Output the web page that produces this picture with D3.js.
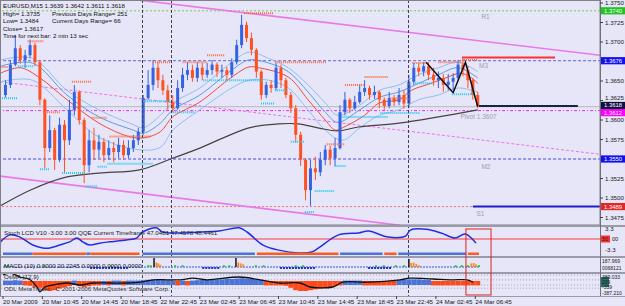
<!DOCTYPE html>
<html><head><meta charset="utf-8">
<script src="https://cdn.jsdelivr.net/npm/d3@7"></script>
<style>
body{margin:0;background:#e6e6f8}
svg{display:block}
text{font-family:"Liberation Sans",Arial,sans-serif}
</style></head>
<body><svg id="c" width="625" height="306"></svg>
<script>
// ---------------- DATA ----------------
const symbolInfo = ["EURUSD,M15  1.3639 1.3642 1.3611 1.3618","High= 1.3735","Previous Days Range= 251","Low= 1.3484","Current Days Range= 66","Close= 1.3617","Time for next bar: 2 min 13 sec"];
const timeTicks = [0,16,32,48,64,80,96,112,128,144,160,176,192];
const timeLabels = ["20 Mar 2009","20 Mar 10:45","20 Mar 14:45","20 Mar 18:45","22 Mar 22:45","23 Mar 02:45","23 Mar 06:45","23 Mar 10:45","23 Mar 14:45","23 Mar 18:45","23 Mar 22:45","24 Mar 02:45","24 Mar 06:45"];
const priceTicks = [1.3750,1.3725,1.3700,1.3650,1.3625,1.3600,1.3575,1.3525,1.3500,1.3475];
// price-level tags on the axis: [price, fill, text colour, nudge]
const priceTags = [[1.3740,"#22c322","#ffffff",0],[1.3676,"#1010f0","#ffffff",0],[1.3550,"#1010f0","#ffffff",0],[1.3612,"#ff00ff","#ffffff",2],[1.3618,"#101040","#ffffff",-0.5],[1.3489,"#e02828","#ffffff",0]];

// candles (30-minute steps)
const opens = [1.3632,1.3645,1.3671,1.3692,1.3677,1.3683,1.3696,1.3674,1.3626,1.3564,
 1.3587,1.3549,1.3594,1.3574,1.3613,1.3636,1.3600,1.3542,1.3574,1.3562,
 1.3572,1.3555,1.3564,1.3559,1.3568,1.3555,1.3564,1.3574,1.3585,1.3628,
 1.3645,1.3667,1.3651,1.3638,1.3623,1.3615,1.3641,1.3658,1.3664,1.3654,
 1.3667,1.3658,1.3664,1.3671,1.3662,1.3664,1.3658,1.3674,1.3696,1.3722,
 1.3705,1.3690,1.3662,1.3632,1.3645,1.3641,1.3667,1.3651,1.3632,1.3615,
 1.3581,1.3549,1.3510,1.3538,1.3533,1.3549,1.3562,1.3551,1.3564,1.3610,
 1.3626,1.3615,1.3623,1.3636,1.3641,1.3632,1.3636,1.3626,1.3618,1.3628,
 1.3623,1.3632,1.3621,1.3649,1.3667,1.3662,1.3669,1.3658,1.3651,1.3654,
 1.3645,1.3649,1.3654,1.3671,1.3664,1.3651,1.3632];
const highs = [1.3651,1.3677,1.3709,1.3696,1.3690,1.3703,1.3699,1.3677,1.3628,1.3606,
 1.3590,1.3603,1.3600,1.3626,1.3645,1.3638,1.3603,1.3587,1.3590,1.3581,
 1.3577,1.3574,1.3572,1.3577,1.3574,1.3574,1.3581,1.3590,1.3632,1.3664,
 1.3677,1.3674,1.3658,1.3645,1.3632,1.3651,1.3667,1.3674,1.3671,1.3674,
 1.3673,1.3673,1.3677,1.3674,1.3671,1.3668,1.3679,1.3703,1.3735,1.3726,
 1.3712,1.3692,1.3664,1.3649,1.3651,1.3673,1.3671,1.3654,1.3636,1.3619,
 1.3585,1.3551,1.3549,1.3553,1.3559,1.3568,1.3567,1.3577,1.3619,1.3636,
 1.3628,1.3631,1.3646,1.3651,1.3644,1.3644,1.3638,1.3629,1.3636,1.3632,
 1.3641,1.3638,1.3658,1.3673,1.3673,1.3674,1.3674,1.3667,1.3662,1.3659,
 1.3659,1.3660,1.3677,1.3679,1.3669,1.3654,1.3636];
const lows = [1.3629,1.3641,1.3669,1.3672,1.3667,1.3679,1.3669,1.3619,1.3538,1.3559,
 1.3536,1.3546,1.3533,1.3568,1.3606,1.3594,1.3519,1.3533,1.3549,1.3551,
 1.3546,1.3549,1.3546,1.3551,1.3549,1.3551,1.3559,1.3568,1.3581,1.3626,
 1.3638,1.3641,1.3632,1.3613,1.3610,1.3613,1.3636,1.3651,1.3649,1.3649,
 1.3651,1.3654,1.3658,1.3655,1.3654,1.3651,1.3654,1.3671,1.3692,1.3700,
 1.3683,1.3654,1.3626,1.3628,1.3635,1.3638,1.3641,1.3628,1.3609,1.3571,
 1.3541,1.3497,1.3490,1.3523,1.3528,1.3542,1.3542,1.3541,1.3562,1.3606,
 1.3609,1.3613,1.3621,1.3631,1.3626,1.3627,1.3615,1.3613,1.3615,1.3618,
 1.3619,1.3615,1.3615,1.3645,1.3656,1.3656,1.3651,1.3644,1.3641,1.3636,
 1.3638,1.3638,1.3651,1.3656,1.3641,1.3626,1.3615];
const closes = [1.3645,1.3671,1.3692,1.3677,1.3683,1.3696,1.3674,1.3626,1.3564,1.3587,
 1.3549,1.3594,1.3574,1.3613,1.3636,1.3600,1.3542,1.3574,1.3562,1.3572,
 1.3555,1.3564,1.3559,1.3568,1.3555,1.3564,1.3574,1.3585,1.3628,1.3645,
 1.3667,1.3651,1.3638,1.3623,1.3615,1.3641,1.3658,1.3664,1.3654,1.3667,
 1.3658,1.3664,1.3671,1.3662,1.3664,1.3658,1.3674,1.3696,1.3722,1.3705,
 1.3690,1.3662,1.3632,1.3645,1.3641,1.3667,1.3651,1.3632,1.3615,1.3581,
 1.3549,1.3510,1.3538,1.3533,1.3549,1.3562,1.3551,1.3564,1.3610,1.3626,
 1.3615,1.3623,1.3636,1.3641,1.3632,1.3636,1.3626,1.3618,1.3628,1.3623,
 1.3632,1.3621,1.3649,1.3667,1.3662,1.3669,1.3658,1.3651,1.3654,1.3645,
 1.3649,1.3654,1.3671,1.3664,1.3651,1.3632,1.3618];

// moving averages: [bar, price]
const maSlow = [[-1,1.3490],[11,1.3510],[26,1.3527],[39,1.3532],[55.5,1.3536],[69,1.3551],[80,1.3564],[100,1.3590],[112,1.3595],[120,1.3595],[128,1.3590],[136,1.3586],[144.5,1.3591],[161,1.3596],[177,1.3604],[193,1.3613]];
const maMid = [[-1,1.3660],[7,1.3667],[15,1.3654],[26,1.3626],[39,1.3596],[51,1.3579],[57,1.3577],[64,1.3585],[69,1.3604],[80,1.3623],[93,1.3655],[100,1.3668],[104,1.3667],[116,1.3655],[124,1.3626],[131,1.3600],[135,1.3587],[138,1.3590],[147,1.3606],[153,1.3622],[161,1.3626],[166,1.3638],[174,1.3647],[180,1.3654],[186,1.3660],[190,1.3655],[193,1.3647]];
const bandUp = [[-1,1.3677],[12,1.3679],[26,1.3638],[39,1.3613],[53,1.3594],[57,1.3590],[64,1.3606],[69,1.3622],[80,1.3641],[93,1.3674],[100,1.3687],[108,1.3679],[116,1.3667],[124,1.3645],[131,1.3622],[136,1.3606],[145,1.3619],[153,1.3638],[161,1.3645],[169,1.3658],[177,1.3667],[185,1.3674],[193,1.3662]];
const bandIn = [[-1,1.3669],[12,1.3673],[26,1.3632],[39,1.3604],[53,1.3587],[57,1.3583],[64,1.3596],[69,1.3613],[80,1.3632],[93,1.3664],[100,1.3677],[108,1.3673],[116,1.3662],[124,1.3636],[131,1.3610],[136,1.3597],[145,1.3613],[153,1.3629],[161,1.3636],[169,1.3647],[177,1.3658],[185,1.3667],[193,1.3654]];
const bandLo = [[-1,1.3649],[12,1.3651],[26,1.3613],[39,1.3578],[55,1.3562],[64,1.3565],[69,1.3587],[80,1.3613],[93,1.3641],[100,1.3651],[108,1.3651],[116,1.3641],[124,1.3613],[131,1.3587],[138,1.3574],[145,1.3590],[153,1.3606],[161,1.3613],[169,1.3626],[177,1.3632],[185,1.3641],[193,1.3636]];

// channel lines [[bar,price],[bar,price]]
const chanUpper = [[54.9,1.37538],[242.7,1.3683]];
const chanMid = [[-1.2,1.3649],[242.7,1.3556]];
const chanLower = [[-1.2,1.3528],[161.4,1.3465]];

// horizontal levels: [price, colour, dash]
const levels = [[1.3740,"#77cc44","2,2"],[1.3676,"#6060d8","3,2"],[1.3550,"#4848e0","3,2"],[1.3612,"#ee22ee","3,2,1,2"],[1.3489,"#f07070","2,2"]];
const bidPrice = 1.3617;
const shortLines = [[186.6,224.4,1.3680,"#ff3030"],[193.5,233.7,1.3618,"#202048"],[191,242.7,1.3489,"#2020c8"]];
const levelNames = [["R1",194.5,1.3730],["M3",193.5,1.3667],["Pivot  1.3607",186,1.3601],["M2",194.5,1.3537],["S1",192.5,1.3477]];
const zigzag = [[172,1.3674],[183,1.3635],[188,1.3674],[193,1.3617]];

// fractal-style resistance / support dashes: [bar0, bar1, price]
const resist = [[-1,2,1.3668],[10,16.6,1.3701],[17,23,1.3610],[28,36,1.3649],[36,42.5,1.3603],[43.3,60.3,1.3579],[61,69,1.3674],[73,83,1.3674],[83,90,1.3683],[98,110,1.3737],[110.5,131.6,1.3674],[131.6,139,1.3569],[139,146.6,1.3645],[147,156.7,1.3655],[157.5,164.8,1.3628],[166.4,172.9,1.3673],[177,186.6,1.3674],[186.6,193,1.3677]];
const support = [[-0.4,6,1.3628],[6,12.6,1.3669],[15,19,1.3537],[24,33.6,1.3532],[33.6,38.5,1.3515],[38.5,42.5,1.3540],[42.5,61,1.3544],[57,68.4,1.3624],[68.4,78,1.3610],[81.4,105.7,1.3651],[104.9,110.5,1.3621],[110.5,115.4,1.3638],[117,122.7,1.3572],[122.7,126.7,1.3482],[126.7,134.8,1.3509],[134.8,139.7,1.3541],[138,156.7,1.3604],[153.4,169.6,1.3609],[167.6,175,1.3647],[182.6,191.5,1.3633]];

const sessionMarks = [56.7,68.4,164.6];

// QQE panel
const qqeTitle = "Stoch LCD V10 -3.00 3.00  QQE Current Timeframe 47.0481 47.4578 48.4461";
const qqeLine = [[-1,-0.9],[2.8,1.3],[6.9,0.6],[12.1,-1.9],[16.2,-2.8],[19,-2.8],[23.1,-1.9],[27.1,-0.9],[30,0.3],[32.4,-0.9],[35.2,-1.9],[39.3,-1.3],[43.3,-0.9],[50.2,-0.3],[54.3,0.3],[56.7,2.2],[62.3,3.5],[64.8,2.2],[67.6,1.9],[72.9,1.9],[79.8,2.2],[87.9,2.5],[96,3.5],[99.2,2.2],[105.7,-1.9],[112.1,-3.5],[120.2,-4.4],[125.5,-4.1],[128.3,-2.8],[136.4,1.3],[144.5,1.9],[148.6,2.5],[156.7,0.6],[163.6,0.9],[165.6,2.8],[172,3.1],[178.1,1.9],[183.8,0.3],[187.9,1.6],[192.3,-1.3]];
const qqeStrip = [[0,12,1],[12,34,0],[34,35.5,1],[35.5,55.5,0],[56.7,102.4,1],[103.2,136.4,0],[137,154.3,1],[155,160,0],[160.7,188.3,1],[189,193.5,0]];

// MACD panel
const macdTitle = "MACD (10) 0.0000 20.2245 0.0000 0.0000 0.0000";
const macdBars = [[61.4,1,"k"],[62.3,0.5,"o"],[63.1,0.4,"o"],[63.9,0.25,"o"],[94.7,1,"k"],[95.6,0.5,"o"],[96.6,0.4,"o"],[97.6,0.3,"o"],[165,0.9,"k"],[165.9,0.45,"o"],[166.9,0.5,"o"],[168,0.35,"o"],[169.2,0.2,"o"],[190.3,0.4,"o"],[191.3,0.45,"o"],[192.3,0.3,"o"]];
const macdGreen = [0.8,2,16.6,44,59,60,70,73,89.8,92,102.8,106,119,122,151.6,154.8,159.7,163,184,186.5,189,193.5];
const macdDark = [[35.4,50.8],[81,88.2],[112.6,127.2],[148.4,158.1]];

// OsMA panel
const osmaTitle = "OsMA (12,9)";
const copyright = "ODL MetaTrader - C 2001-2006 MetaQuotes Software Corp.";
const osmaVals = [0.3,0.3,0.35,0.3,-0.3,-0.35,-0.5,-0.6,-0.9,-1.0,
 -0.9,-0.7,-0.5,-0.4,0.3,-0.4,-0.5,-0.4,-0.3,-0.3,
 0.25,-0.3,0.3,0.3,-0.3,0.3,0.3,0.3,0.35,0.4,
 0.4,0.4,0.4,0.35,0.3,-0.3,0.3,-0.3,0.3,0.35,
 0.4,0.4,0.4,0.45,0.45,0.5,0.5,0.55,0.6,0.55,
 0.5,0.45,0.4,-0.3,-0.3,-0.3,-0.3,-0.35,-0.6,-0.9,
 -1.0,-1.0,-0.9,-0.8,-0.7,-0.6,-0.5,-0.4,-0.3,0.3,
 0.3,0.3,0.3,-0.3,-0.3,-0.3,-0.3,-0.3,-0.3,-0.3,
 0.35,0.4,0.45,0.45,0.45,0.4,0.4,-0.3,-0.3,-0.3,
 -0.3,-0.3,-0.3,-0.3,-0.3,-0.3,-0.3];
const osmaLine = [[0,1.0],[2.8,1.25],[6.9,0.75],[11,0.4],[13.8,-0.5],[15,-1.1],[17.1,-0.5],[20.3,-0.25],[26,0],[31.3,-0.25],[36.6,0],[43.5,0],[50.4,0],[55.7,0.1],[61,0.4],[66.7,0.4],[72,0.4],[77.2,0.6],[82.9,0.4],[96.3,0.75],[104.5,0.4],[112.6,0],[120.7,0],[124.8,-0.5],[128.9,-0.6],[134.1,-0.5],[138.2,0.1],[148,0.1],[161.4,0.4],[165.4,0.6],[174.8,0.5],[182.9,0.4],[188.6,0.4],[191.1,0.1]];
const osmaGuides = [1.0,0.4,-0.25,-0.65];
const osmaAxis = [["389.033",0.7],["339",0.08],["-339",-0.55],["-387.210",-1.2]];
const macdAxis = [["187.969",0.7],["0068121",-0.12]];
const qqeAxis = [["3.3",3.3],["-3.3",-3.3]];

// ---------------- DRAW ----------------
const svg = d3.select("#c");
const BG = "#e6e6f8";
svg.append("rect").attr("width",625).attr("height",306).attr("fill",BG);

const xs = d3.scaleLinear().domain([0,242.7]).range([3,600]);
const yP = d3.scaleLinear().domain([1.35,1.37]).range([198,42]);
const yQ = d3.scaleLinear().domain([-3.3,3.3]).range([249.5,228.5]);
const yM = d3.scaleLinear().domain([0,1]).range([267,258]);
const yO = d3.scaleLinear().domain([-1,1]).range([291,275]);

const defs = svg.append("defs");
function clip(id,y0,y1){defs.append("clipPath").attr("id",id).append("rect").attr("x",0).attr("y",y0).attr("width",600).attr("height",y1-y0);}
clip("cm",1,225); clip("cq",227,256); clip("cmd",258,272); clip("co",274,296);

const gMain = svg.append("g").attr("clip-path","url(#cm)");
const ln = (sy)=>d3.line().x(d=>xs(d[0])).y(d=>sy(d[1]));
function path(g,data,color,w,dash,sy,curve){
  g.append("path").datum(data).attr("d",ln(sy||yP).curve(curve||d3.curveLinear)(data))
   .attr("fill","none").attr("stroke",color).attr("stroke-width",w).attr("stroke-dasharray",dash||null);
}

// horizontal levels
levels.forEach(l=>path(gMain,[[-2,l[0]],[243,l[0]]],l[1],1,l[2]));
path(gMain,[[-2,bidPrice],[243,bidPrice]],"#b8b8c0",1);

// channels
path(gMain,chanUpper,"#ea78ea",1.6);
path(gMain,chanMid,"#f070f0",1,"3,2");
path(gMain,chanLower,"#ea78ea",1.6);

// moving averages
const cv = d3.curveCatmullRom;
path(gMain,bandUp,"#8cc0f0",1,null,yP,cv);
path(gMain,bandLo,"#8cc0f0",1,null,yP,cv);
path(gMain,bandIn,"#5a9ae8",1,null,yP,cv);
path(gMain,maMid,"#f04a3a",1,null,yP,cv);
path(gMain,maSlow,"#4a4040",1.2,null,yP,cv);

// session markers
sessionMarks.forEach(t=>{
  svg.append("line").attr("x1",Math.round(xs(t))+0.5).attr("x2",Math.round(xs(t))+0.5).attr("y1",0).attr("y2",296)
   .attr("stroke","#404050").attr("stroke-width",1).attr("stroke-dasharray","3,2");
});

// candles
const cand = opens.map((o,i)=>({t:2*i+1,o,h:highs[i],l:lows[i],c:closes[i]}));
const cg = gMain.append("g");
cand.forEach(d=>{
  const up = d.c>=d.o, col = up?"#3462e0":"#ff5020";
  const x = xs(d.t);
  cg.append("line").attr("x1",x).attr("x2",x).attr("y1",yP(d.h)).attr("y2",yP(d.l)).attr("stroke",col).attr("stroke-width",1);
  const y0 = yP(Math.max(d.o,d.c)), y1 = yP(Math.min(d.o,d.c));
  cg.append("rect").attr("x",x-1.5).attr("y",y0).attr("width",3).attr("height",Math.max(1,y1-y0)).attr("fill",col);
});

// resistance/support dashes
resist.forEach(r=>path(gMain,[[r[0],r[2]],[r[1],r[2]]],"#ff6a40",2,"1,1"));
support.forEach(r=>path(gMain,[[r[0],r[2]],[r[1],r[2]]],"#28c8f0",2,"1,1"));

// short lines and zigzag
shortLines.forEach(s=>path(gMain,[[s[0],s[2]],[s[1],s[2]]],s[3],2));
path(gMain,zigzag,"#101010",1.5);

// level names
levelNames.forEach(n=>gMain.append("text").attr("x",xs(n[1])).attr("y",yP(n[2])).attr("font-size",6.5).attr("fill","#a0a0a8").text(n[0]));

// info text
const info = gMain.append("g").attr("font-size",6.2).attr("fill","#101010");
info.append("text").attr("x",3).attr("y",8).text(symbolInfo[0]);
info.append("text").attr("x",3).attr("y",15.5).text(symbolInfo[1]);
info.append("text").attr("x",52).attr("y",15.5).text(symbolInfo[2]);
info.append("text").attr("x",3).attr("y",23).text(symbolInfo[3]);
info.append("text").attr("x",52).attr("y",23).text(symbolInfo[4]);
info.append("text").attr("x",3).attr("y",30.5).text(symbolInfo[5]);
info.append("text").attr("x",3).attr("y",38).text(symbolInfo[6]);

// ---- QQE panel ----
const gQ = svg.append("g").attr("clip-path","url(#cq)");
path(gQ,[[-2,0],[243,0]],"#ff3838",1,null,yQ);
path(gQ,qqeLine,"#2030e0",1.5,null,yQ,cv);
qqeStrip.forEach(s=>gQ.append("rect").attr("x",xs(s[0])).attr("y",252.5).attr("width",Math.max(1,xs(s[1])-xs(s[0]))).attr("height",2.5).attr("fill",s[2]?"#4a74d8":"#ff5a20"));
gQ.append("text").attr("x",4).attr("y",235).attr("font-size",6.2).attr("fill","#202020").text(qqeTitle);

// ---- MACD panel ----
const gM = svg.append("g").attr("clip-path","url(#cmd)");
path(gM,[[0,0],[193.5,0]],"#7088e8",1.5,"2,1",yM);
macdDark.forEach(s=>path(gM,[[s[0],-0.1],[s[1],-0.1]],"#2838c8",2,"2,1",yM));
macdGreen.forEach(t=>gM.append("rect").attr("x",xs(t)-1).attr("y",yM(0.2)).attr("width",2).attr("height",yM(0)-yM(0.2)).attr("fill","#22cc22"));
macdBars.forEach(b=>gM.append("rect").attr("x",xs(b[0])-0.8).attr("y",yM(b[1])).attr("width",b[2]==="k"?1.6:1.8).attr("height",yM(0)-yM(b[1])).attr("fill",b[2]==="k"?"#202028":"#ff8a20"));
gM.append("text").attr("x",4).attr("y",268).attr("font-size",6.2).attr("fill","#202020").text(macdTitle);

// ---- OsMA panel ----
const gO = svg.append("g").attr("clip-path","url(#co)");
osmaGuides.forEach(v=>path(gO,[[-2,v],[243,v]],"#a8a8b8",1,"1,2",yO));
osmaVals.forEach((v,i)=>{
  const t=2*i+1, top=yO(Math.max(v,0.25)), bot=yO(Math.min(v,-0.25));
  gO.append("rect").attr("x",xs(t)-2.47).attr("y",top).attr("width",4.94).attr("height",bot-top).attr("fill",v>0?"#4a74d8":"#ff4a18");
});
path(gO,osmaLine,"#101010",1.3,null,yO,cv);
gO.append("text").attr("x",4).attr("y",279).attr("font-size",6.2).attr("fill","#202020").text(osmaTitle);
gO.append("text").attr("x",4).attr("y",290.5).attr("font-size",6.2).attr("fill","#303030").text(copyright);

// ---- frames & separators ----
svg.append("rect").attr("x",0.5).attr("y",0.5).attr("width",599.5).attr("height",224.5).attr("fill","none").attr("stroke","#808088");
[[225,227],[256,258],[272,274]].forEach(s=>svg.append("rect").attr("x",0).attr("y",s[0]).attr("width",625).attr("height",s[1]-s[0]).attr("fill","#9a9aa8"));
svg.append("line").attr("x1",0).attr("x2",625).attr("y1",296.5).attr("y2",296.5).attr("stroke","#9a9aa8");
svg.append("line").attr("x1",600.5).attr("x2",600.5).attr("y1",0).attr("y2",296).attr("stroke","#707078");
svg.append("line").attr("x1",0.5).attr("x2",0.5).attr("y1",0).attr("y2",296).attr("stroke","#808088");

// red highlight box
svg.append("rect").attr("x",xs(188.2)).attr("y",229).attr("width",xs(198.4)-xs(188.2)).attr("height",66).attr("fill","none").attr("stroke","#e02020").attr("stroke-width",1);

// ---- price axis ----
const ax = svg.append("g").attr("font-size",6.2);
priceTicks.forEach(p=>{
  const y=yP(p);
  const off = Math.abs(p-1.3625)<1e-6 ? -0.4 : 2;
  ax.append("line").attr("x1",600).attr("x2",603).attr("y1",y).attr("y2",y).attr("stroke","#404040");
  ax.append("text").attr("x",605).attr("y",y+off).attr("fill","#202020").text(p.toFixed(4));
});
priceTags.forEach(p=>{
  const y=yP(p[0])+p[3];
  ax.append("rect").attr("x",601).attr("y",y-3.6).attr("width",24).attr("height",7.2).attr("fill",p[1]);
  ax.append("text").attr("x",604).attr("y",y+2).attr("font-size",5.9).attr("fill",p[2]).text(p[0].toFixed(4));
});
qqeAxis.forEach(a=>ax.append("text").attr("x",605).attr("y",yQ(a[1])+2.2).attr("fill","#202020").text(a[0]));
ax.append("rect").attr("x",601).attr("y",yQ(0)-3.5).attr("width",9).attr("height",7).attr("fill","#ff3030");
ax.append("text").attr("x",602).attr("y",yQ(0)+2.2).attr("font-size",5.6).attr("fill","#202020").text("50");
ax.append("text").attr("x",612).attr("y",yQ(0)+2.2).attr("font-size",5.6).attr("fill","#202020").text("00");
macdAxis.forEach(a=>ax.append("text").attr("x",602).attr("y",yM(a[1])+2).attr("font-size",5).attr("fill","#202020").text(a[0]));
ax.append("rect").attr("x",601).attr("y",yO(0.75)).attr("width",8).attr("height",yO(-0.5)-yO(0.75)).attr("fill","#2a6a6a");
osmaAxis.forEach(a=>ax.append("text").attr("x",602).attr("y",yO(a[1])+2).attr("font-size",5).attr("fill","#202020").text(a[0]));

// ---- time axis ----
timeTicks.forEach((t,i)=>{
  const x=xs(t);
  ax.append("line").attr("x1",x).attr("x2",x).attr("y1",296).attr("y2",299).attr("stroke","#404040");
  ax.append("text").attr("x",x).attr("y",304).attr("fill","#202020").text(timeLabels[i]);
});
</script></body></html>
